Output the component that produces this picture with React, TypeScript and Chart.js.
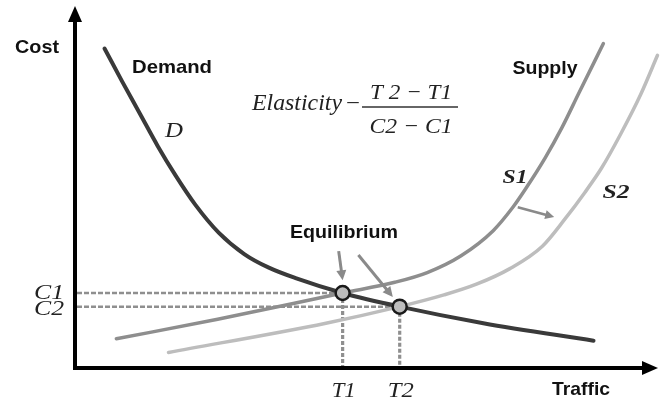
import { useEffect, useRef } from "react";
import { Chart, registerables } from "chart.js";
Chart.register(...registerables);

// Curve readings (Traffic = x, Cost = y), arbitrary units
const demandTraffic = [30, 48, 66, 84, 102, 122, 146, 172, 197, 225, 272, 330, 415, 527];
const demandCost = [328, 294, 261, 228, 198, 168, 139, 117, 103, 92, 77, 63, 46, 28];
const supply1Traffic = [42, 145, 272, 325, 358, 392, 425, 445, 458, 478, 495, 512, 537];
const supply1Cost = [30, 50, 77, 88, 98, 115, 141, 165, 184, 216, 247, 282, 333];
const supply2Traffic = [95, 255, 330, 375, 408, 442, 475, 498, 518, 535, 555, 575, 592];
const supply2Cost = [16, 46, 63, 75, 86, 102, 125, 153, 180, 205, 241, 281, 321];
const equilibriumTraffic = [272, 330];
const equilibriumCost = [77, 63];
const costTickLabels = ["C1", "C2"];
const trafficTickLabels = ["T1", "T2"];

const SANS = '"Liberation Sans", Arial, sans-serif';
const SERIF = '"Liberation Serif", "Times New Roman", serif';

function txt(ctx: CanvasRenderingContext2D, s: string, cx: number, baseY: number, font: string, w: number, color = "#111") {
  ctx.save();
  ctx.font = font;
  const m = ctx.measureText(s).width;
  ctx.translate(cx, baseY);
  ctx.scale(w / m, 1);
  ctx.textAlign = "center";
  ctx.textBaseline = "alphabetic";
  ctx.fillStyle = color;
  ctx.fillText(s, 0, 0);
  ctx.restore();
}

function arrow(ctx: CanvasRenderingContext2D, x1: number, y1: number, x2: number, y2: number, color: string, lw: number, hl: number, hw: number) {
  const a = Math.atan2(y2 - y1, x2 - x1);
  const c = Math.cos(a), s = Math.sin(a);
  const bx = x2 - hl * c, by = y2 - hl * s;
  ctx.save();
  ctx.strokeStyle = color;
  ctx.fillStyle = color;
  ctx.lineWidth = lw;
  ctx.lineCap = "butt";
  ctx.beginPath();
  ctx.moveTo(x1, y1);
  ctx.lineTo(bx + c, by + s);
  ctx.stroke();
  ctx.beginPath();
  ctx.moveTo(x2, y2);
  ctx.lineTo(bx + hw * s, by - hw * c);
  ctx.lineTo(bx - hw * s, by + hw * c);
  ctx.closePath();
  ctx.fill();
  ctx.restore();
}

const pairs = (xs: number[], ys: number[]) => xs.map((x, i) => ({ x, y: ys[i] }));

const decor = {
  id: "decor",
  beforeDatasetsDraw(chart: any) {
    const ctx: CanvasRenderingContext2D = chart.ctx;
    const xs = chart.scales.x, ys = chart.scales.y;
    const ca = chart.chartArea;
    // dashed guide lines
    ctx.save();
    ctx.strokeStyle = "#8f8f8f";
    for (let i = 0; i < equilibriumTraffic.length; i++) {
      const px = xs.getPixelForValue(equilibriumTraffic[i]);
      const py = ys.getPixelForValue(equilibriumCost[i]);
      ctx.lineWidth = 2.5;
      ctx.setLineDash([5, 2]);
      ctx.beginPath();
      ctx.moveTo(ca.left + 2, py);
      ctx.lineTo(px, py);
      ctx.stroke();
      ctx.lineWidth = 3.2;
      ctx.setLineDash([4, 2]);
      ctx.beginPath();
      ctx.moveTo(px, py);
      ctx.lineTo(px, ca.bottom - 2);
      ctx.stroke();
    }
    ctx.restore();
    // axes
    const ox = ca.left, oy = ca.bottom;
    ctx.save();
    ctx.strokeStyle = "#000";
    ctx.fillStyle = "#000";
    ctx.lineWidth = 4;
    ctx.beginPath();
    ctx.moveTo(ox, oy + 2);
    ctx.lineTo(ox, 20);
    ctx.stroke();
    ctx.beginPath();
    ctx.moveTo(ox - 2, oy);
    ctx.lineTo(645, oy);
    ctx.stroke();
    ctx.beginPath();
    ctx.moveTo(ox, 6);
    ctx.lineTo(ox - 7, 22);
    ctx.lineTo(ox + 7, 22);
    ctx.closePath();
    ctx.fill();
    ctx.beginPath();
    ctx.moveTo(658, oy);
    ctx.lineTo(642, oy - 7);
    ctx.lineTo(642, oy + 7);
    ctx.closePath();
    ctx.fill();
    ctx.restore();
  },
  afterDatasetsDraw(chart: any) {
    const ctx: CanvasRenderingContext2D = chart.ctx;
    const xs = chart.scales.x, ys = chart.scales.y;
    const P = (x: number, y: number) => [xs.getPixelForValue(x), ys.getPixelForValue(y)];
    // axis titles and labels
    txt(ctx, "Cost", 37, 53, `bold 18px ${SANS}`, 44);
    txt(ctx, "Traffic", 581, 395, `bold 19px ${SANS}`, 58);
    txt(ctx, "Demand", 172, 73, `bold 19px ${SANS}`, 80);
    txt(ctx, "Supply", 545, 74, `bold 19px ${SANS}`, 65);
    txt(ctx, "Equilibrium", 344, 238, `bold 18px ${SANS}`, 108);
    txt(ctx, "D", 174, 137, `italic 21px ${SERIF}`, 18, "#222");
    txt(ctx, "S1", 515, 183, `italic bold 19px ${SERIF}`, 25, "#222");
    txt(ctx, "S2", 616, 198, `italic bold 19px ${SERIF}`, 27, "#222");
    // tick labels
    for (let i = 0; i < costTickLabels.length; i++) {
      const py = ys.getPixelForValue(equilibriumCost[i]);
      txt(ctx, costTickLabels[i], 49, py + 6 + i * 2, `italic 21px ${SERIF}`, 30, "#222");
    }
    for (let i = 0; i < trafficTickLabels.length; i++) {
      const px = xs.getPixelForValue(equilibriumTraffic[i]);
      txt(ctx, trafficTickLabels[i], px + 1, 397, `italic 21px ${SERIF}`, i === 0 ? 24 : 26, "#222");
    }
    // formula
    txt(ctx, "Elasticity", 297, 110, `italic 23px ${SERIF}`, 90, "#222");
    txt(ctx, "\u2212", 353, 110, `22px ${SERIF}`, 14, "#222");
    ctx.save();
    ctx.strokeStyle = "#333";
    ctx.lineWidth = 1.5;
    ctx.beginPath();
    ctx.moveTo(362, 107);
    ctx.lineTo(458, 107);
    ctx.stroke();
    ctx.restore();
    txt(ctx, "T 2 \u2212 T1", 411, 99, `italic 22px ${SERIF}`, 82, "#222");
    txt(ctx, "C2 \u2212 C1", 411, 133, `italic 22px ${SERIF}`, 83, "#222");
    // arrows
    const [a1x, a1y] = P(268, 120), [b1x, b1y] = P(272, 90);
    arrow(ctx, a1x, a1y, b1x, b1y, "#8a8a8a", 3, 10, 5);
    const [a2x, a2y] = P(288, 116), [b2x, b2y] = P(323, 73);
    arrow(ctx, a2x, a2y, b2x, b2y, "#8a8a8a", 3, 10, 5);
    const [a3x, a3y] = P(450, 165), [b3x, b3y] = P(487, 155);
    arrow(ctx, a3x, a3y, b3x, b3y, "#8a8a8a", 2.5, 9, 4.5);
  },
};

export default function App() {
  const ref = useRef<HTMLCanvasElement>(null);
  useEffect(() => {
    document.body.style.margin = "0";
    const chart = new Chart(ref.current!, {
      type: "scatter",
      data: {
        datasets: [
          {
            label: "Equilibrium",
            data: pairs(equilibriumTraffic, equilibriumCost),
            showLine: false,
            pointRadius: 7,
            pointBackgroundColor: "#bcbcbc",
            pointBorderColor: "#1a1a1a",
            pointBorderWidth: 2.5,
          },
          {
            label: "Demand",
            data: pairs(demandTraffic, demandCost),
            showLine: true,
            borderColor: "#3a3a3a",
            borderWidth: 4,
            pointRadius: 0,
            cubicInterpolationMode: "monotone",
            borderCapStyle: "round",
          },
          {
            label: "S1",
            data: pairs(supply1Traffic, supply1Cost),
            showLine: true,
            borderColor: "#8e8e8e",
            borderWidth: 3.5,
            pointRadius: 0,
            cubicInterpolationMode: "monotone",
            borderCapStyle: "round",
          },
          {
            label: "S2",
            data: pairs(supply2Traffic, supply2Cost),
            showLine: true,
            borderColor: "#bdbdbd",
            borderWidth: 3.5,
            pointRadius: 0,
            cubicInterpolationMode: "monotone",
            borderCapStyle: "round",
            clip: false,
          },
        ],
      } as any,
      options: {
        responsive: false,
        animation: false,
        layout: { padding: { left: 75, right: 0, top: 0, bottom: 37 } },
        scales: {
          x: { type: "linear", min: 0, max: 592, display: false },
          y: { type: "linear", min: 0, max: 368, display: false },
        },
        plugins: { legend: { display: false }, tooltip: { enabled: false } },
      },
      plugins: [decor],
    });
    return () => chart.destroy();
  }, []);
  return <canvas ref={ref} width={667} height={405} style={{ display: "block" }} />;
}
